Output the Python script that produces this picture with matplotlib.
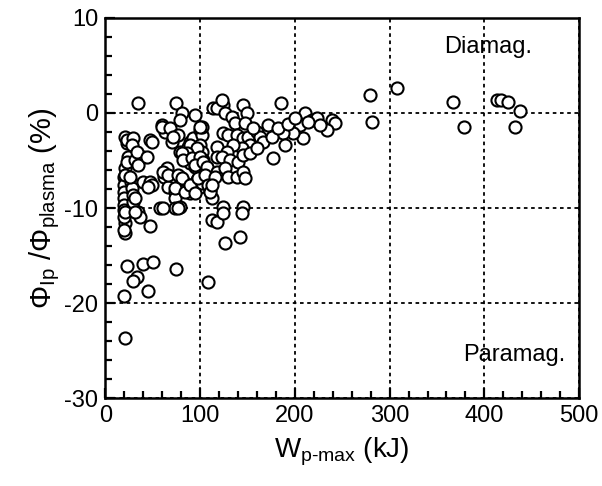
import matplotlib
matplotlib.use('Agg')
import matplotlib.pyplot as plt
from matplotlib.ticker import MultipleLocator

plt.rcParams['font.family'] = ['Liberation Sans', 'DejaVu Sans']
plt.rcParams['mathtext.fontset'] = 'custom'
plt.rcParams['mathtext.rm'] = 'Liberation Sans'
plt.rcParams['mathtext.it'] = 'Liberation Sans'
plt.rcParams['axes.unicode_minus'] = False

# stored energy W_p-max (kJ)
w_pmax = [
    20.6, 19.5, 22.7, 33.3, 29.0, 44.9, 39.6, 50.2, 74.4, 108.2,
    126.2, 142.0, 112.5, 117.7, 124.0, 124.0, 145.0, 144.0, 112.5,
    20.6, 20.6, 47.0, 20.6, 19.5, 19.5, 19.5, 19.5, 19.5, 19.5, 19.5, 19.5,
    27.5, 28.0, 29.0, 29.0, 39.6, 47.0, 49.1, 34.3, 36.4, 57.6, 62.8,
    20.6, 22.7, 23.8, 22.7, 31.2, 39.6, 47.0, 59.7, 62.8, 34.3,
    22.7, 29.0, 28.0, 33.3, 34.3, 43.8, 20.6, 25.9, 31.2, 44.9, 61.8, 64.9,
    20.6, 31.2,
    74.4, 80.8, 94.5, 78.7, 113.5, 59.7, 68.1, 70.2, 76.6, 49.1,
    78.7, 84.0, 87.1, 89.2, 92.4, 99.8, 101.9, 99.8, 101.9, 103.0,
    89.2, 94.5, 96.6, 99.8, 78.7, 84.0, 66.0, 73.4, 73.4, 84.0, 89.2,
    110.3, 107.2, 73.4, 78.7,
    71.3, 101.9, 89.2, 96.6, 86.1, 80.8, 82.0, 91.3, 99.8, 94.5, 103.0,
    107.2, 117.7, 117.7,
    60.7, 66.0, 76.6, 80.8, 73.4, 84.0, 89.2, 94.5, 101.9, 97.7, 105.1,
    108.2, 110.3, 60.7, 76.6,
    124.0, 145.0, 149.4, 117.7, 126.2, 133.6, 136.8, 147.3,
    124.0, 129.4, 138.9, 145.2, 150.5, 160.0, 163.2, 166.3, 152.6, 144.1,
    134.6, 128.3, 123.0, 131.5, 139.9, 145.2, 152.6, 160.0,
    117.7, 126.2, 129.4, 138.9, 145.2, 147.3, 115.6, 112.5,
    122.7, 185.3, 99.8, 210.7, 196.9, 205.4, 218.1, 223.4, 239.2, 242.5,
    234.0, 226.6, 208.6, 198.0, 187.4, 175.8, 189.5, 176.9,
    171.8, 182.0, 192.6, 200.5, 214.0, 155.8,
    279.0, 308.0, 281.0, 367.0, 378.0, 413.0, 418.0, 425.0, 432.0, 438.0,
]

# flux ratio Phi_Ip / Phi_plasma (%)
phi_ratio = [
    -23.7, -19.3, -16.1, -17.3, -17.7, -18.7, -15.9, -15.7, -16.4, -17.8,
    -13.7, -13.1, -11.3, -11.5, -9.9, -10.5, -9.9, -10.5, -8.9,
    -11.6, -12.6, -11.9, -5.8, -6.7, -7.6, -8.3, -8.9, -9.7, -10.2, -10.9, -12.3,
    -7.3, -7.9, -8.6, -9.4, -7.3, -7.3, -7.6, -10.4, -10.9, -10.0, -6.5,
    -2.5, -3.2, -4.6, -5.2, -4.9, -4.6, -2.8, -1.3, -2.0, 1.1,
    -2.8, -2.6, -3.4, -4.1, -5.5, -4.6, -6.5, -6.7, -8.9, -7.8, -6.7, -5.8,
    -10.4, -10.4,
    1.1, 0.0, -0.2, -0.7, 0.5, -1.5, -1.6, -3.1, -2.3, -3.1,
    -4.1, -4.7, -3.6, -3.1, -2.6, -1.8, -2.3, -3.4, -4.1, -4.9,
    -5.3, -5.7, -7.1, -7.8, -6.7, -7.4, -7.8, -8.3, -8.9, -8.1, -8.4,
    -8.1, -7.1, -10.0, -9.9,
    -2.5, -1.5, -3.4, -3.7, -4.2, -4.2, -4.9, -4.7, -4.6, -5.5, -5.2,
    -5.7, -3.6, -4.6,
    -6.2, -6.5, -6.5, -6.8, -7.9, -8.3, -7.6, -8.4, -7.4, -6.8, -6.5,
    -7.6, -8.3, -10.0, -10.0,
    0.8, 0.8, 0.0, 0.5, 0.0, -0.4, -1.05, -1.05,
    -2.1, -2.3, -2.3, -2.6, -2.5, -2.0, -2.5, -3.1, -3.4, -3.7,
    -3.4, -4.1, -4.6, -4.9, -5.2, -4.4, -4.2, -3.7,
    -6.2, -5.8, -6.7, -6.7, -6.2, -6.8, -6.7, -7.6,
    1.4, 1.05, -1.5, 0.0, -1.5, -1.3, -0.7, -0.5, -0.7, -1.05,
    -1.8, -1.3, -2.6, -2.1, -2.1, -2.5, -3.4, -4.7,
    -1.3, -1.6, -1.2, -0.5, -0.95, -1.6,
    1.9, 2.6, -0.95, 1.2, -1.5, 1.4, 1.4, 1.2, -1.5, 0.2,
]

fig = plt.figure(figsize=(6.02, 4.86), dpi=100)
ax = fig.add_axes([0.175, 0.181, 0.787, 0.782])

ax.scatter(w_pmax, phi_ratio, s=76, facecolors='white', edgecolors='black',
           linewidths=1.5, zorder=3)

ax.set_xlim(0, 500)
ax.set_ylim(-30, 10)
ax.xaxis.set_major_locator(MultipleLocator(100))
ax.xaxis.set_minor_locator(MultipleLocator(20))
ax.yaxis.set_major_locator(MultipleLocator(10))
ax.yaxis.set_minor_locator(MultipleLocator(2))

ax.grid(True, which='major', color='black', linestyle=(0, (2, 2)), linewidth=1.3)
ax.set_axisbelow(True)

ax.tick_params(which='both', direction='in', top=False, right=False,
               labelsize=17, width=1.6)
ax.tick_params(which='major', length=7, pad=5)
ax.tick_params(which='minor', length=5)
for sp in ax.spines.values():
    sp.set_linewidth(1.8)

ax.set_xlabel('W$_{\\rm p\u2010max}$ (kJ)', fontsize=20, labelpad=6)
ax.set_ylabel(r'$\Phi_{\rm Ip}$ /$\Phi_{\rm plasma}$ (%)', fontsize=21, labelpad=2)

ax.text(404, 6.9, 'Diamag.', fontsize=17, ha='center', va='center')
ax.text(432, -25.5, 'Paramag.', fontsize=17, ha='center', va='center')

fig.savefig('out.png', dpi=100)
